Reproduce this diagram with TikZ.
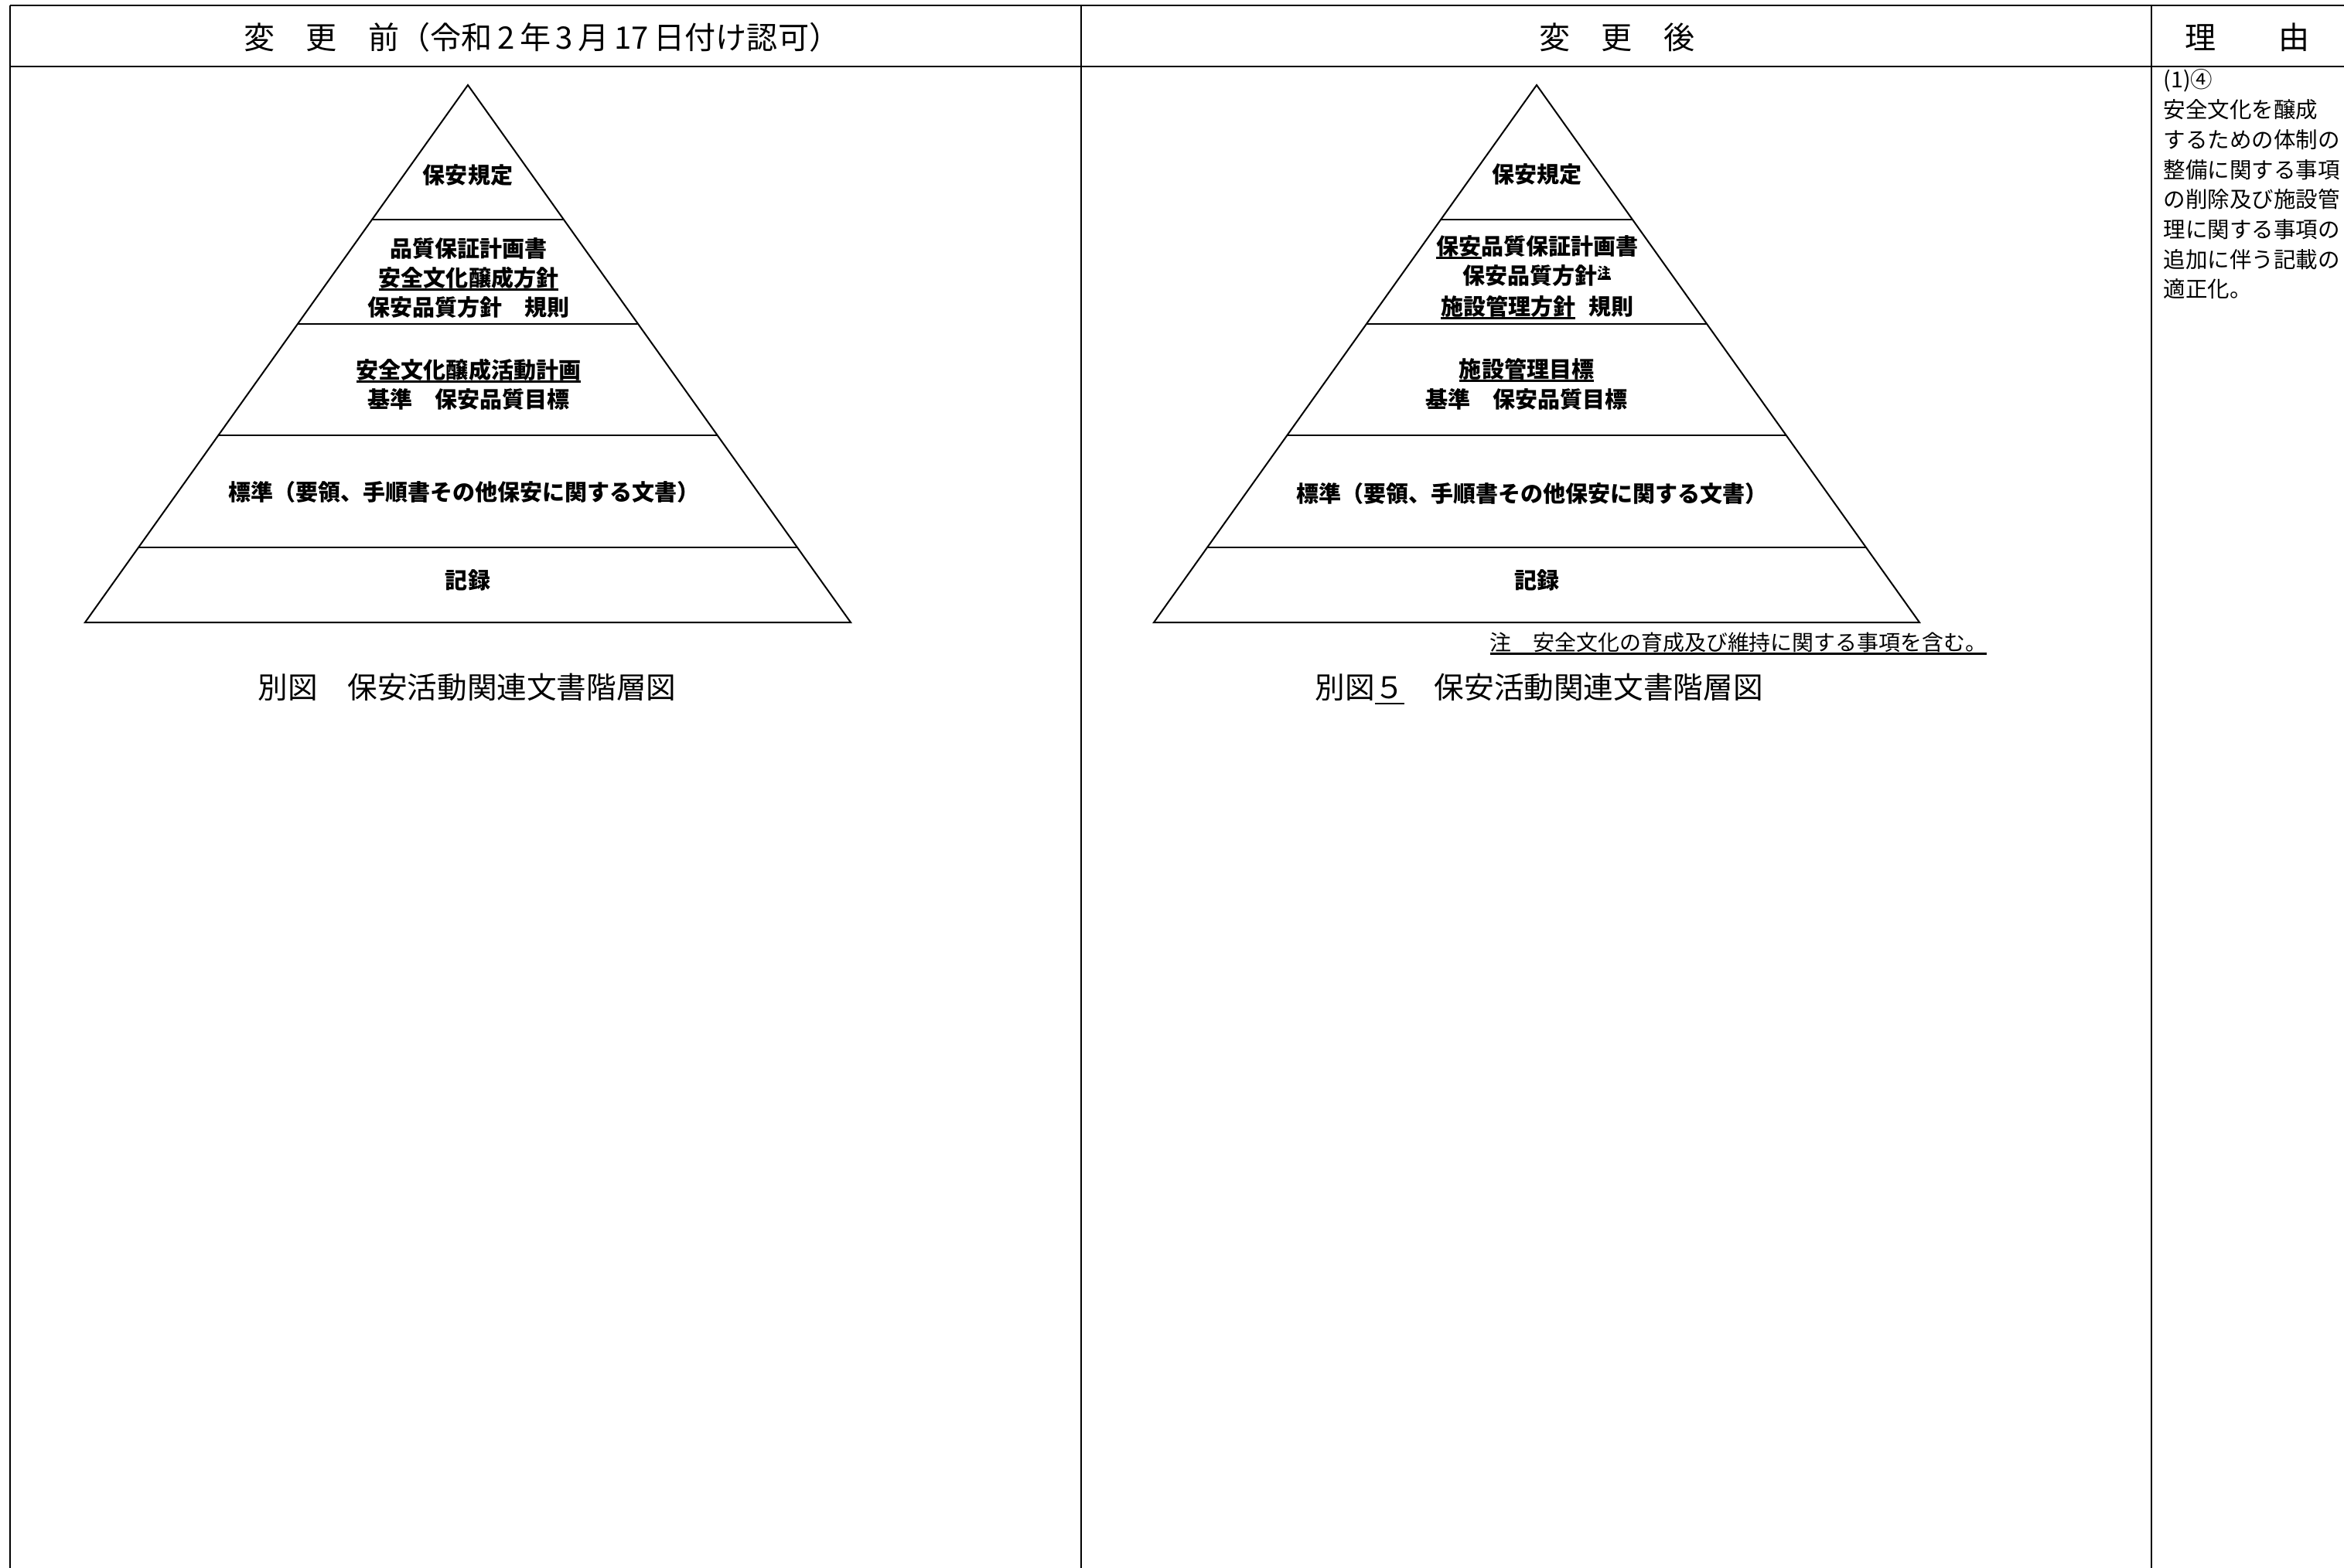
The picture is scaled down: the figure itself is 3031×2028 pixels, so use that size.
\documentclass[tikz,border=0pt]{standalone}
\usepackage{fontspec}
\setmainfont{Noto Sans CJK JP}
\usetikzlibrary{calc}
\newcommand\ulin[1]{\setbox0\hbox{#1}\rlap{\rule[-0.2em]{\wd0}{0.8pt}}\box0}
\tikzset{
  tabline/.style={line width=0.57pt},
  pyr/.style={line width=0.57pt, line join=miter},
  ptxt/.style={inner sep=0pt, text height=7.26pt, text depth=0.99pt,
    font=\fontsize{8.25pt}{10pt}\selectfont\bfseries},
  hdr/.style={inner sep=0pt, text height=10.03pt, text depth=1.37pt,
    font=\fontsize{11.4pt}{13pt}\selectfont},
  captxt/.style={inner sep=0pt, text height=9.66pt, text depth=1.32pt,
    font=\fontsize{10.98pt}{13pt}\selectfont},
  footn/.style={inner sep=0pt, text height=6.99pt, text depth=0.95pt,
    font=\fontsize{7.94pt}{9pt}\selectfont},
  why/.style={inner sep=0pt, anchor=west, text height=7.13pt, text depth=0.97pt,
    font=\fontsize{8.1pt}{10pt}\selectfont},
}
\begin{document}
\begin{tikzpicture}[x=0.01cm, y=-0.01cm]
\useasboundingbox (0,0) rectangle (3031,2028);
% table frame
\coordinate (TL) at (13,7);
\coordinate (TR) at (3031,7);
\coordinate (HL) at (13,86);
\coordinate (HR) at (3031,86);
\coordinate (B1) at (13,2028);
\coordinate (C1t) at (1398,7);
\coordinate (C1b) at (1398,2028);
\coordinate (C2t) at (2782,7);
\coordinate (C2b) at (2782,2028);
\draw[tabline] (TL) -- (TR);
\draw[tabline] (HL) -- (HR);
\draw[tabline] (TL) -- (B1);
\draw[tabline] (C1t) -- (C1b);
\draw[tabline] (C2t) -- (C2b);
% headers
\node[hdr] (h1) at (701,48) {変　更　前（令和\,2\,年\,3\,月\,17\,日付け認可）};
\node[hdr] (h2) at (2091,48) {変　更　後};
\node[hdr] (h3) at (2906,48) {理　　由};
% left pyramid
\coordinate (LA) at (605,110);
\coordinate (LL) at (110,805);
\coordinate (LR) at (1100,805);
\draw[pyr] (LA) -- (LL) -- (LR) -- cycle;
\foreach \t in {0.2504,0.4446,0.6518,0.8604}
  \draw[pyr] ($(LA)!\t!(LL)$) -- ($(LA)!\t!(LR)$);
\node[ptxt] (l1) at (605,226) {保安規定};
\node[ptxt] (l2a) at (606,321) {品質保証計画書};
\node[ptxt] (l2b) at (606,359) {\ulin{安全文化醸成方針}};
\node[ptxt] (l2c) at (606,397) {保安品質方針　規則};
\node[ptxt] (l3a) at (606,478) {\ulin{安全文化醸成活動計画}};
\node[ptxt] (l3b) at (606,516) {基準　保安品質目標};
\node[ptxt] (l4) at (600,636) {標準（要領、手順書その他保安に関する文書）};
\node[ptxt] (l5) at (605,750) {記録};
\node[captxt] (lc) at (604,889) {別図　保安活動関連文書階層図};
% right pyramid
\coordinate (RA) at (1987,110);
\coordinate (RL) at (1492,805);
\coordinate (RR) at (2482,805);
\draw[pyr] (RA) -- (RL) -- (RR) -- cycle;
\foreach \t in {0.2504,0.4446,0.6518,0.8604}
  \draw[pyr] ($(RA)!\t!(RL)$) -- ($(RA)!\t!(RR)$);
\node[ptxt] (r1) at (1987,225) {保安規定};
\node[ptxt] (r2a) at (1988,318) {\ulin{保安}品質保証計画書};
\node[ptxt] (r2b) at (1987,356) {保安品質方針\raisebox{0.28em}{\fontsize{4.8pt}{5pt}\selectfont\ulin{注}}};
\node[ptxt] (r2c) at (1988,396) {\ulin{施設管理方針}\hspace{0.6em}規則};
\node[ptxt] (r3a) at (1974,477) {\ulin{施設管理目標}};
\node[ptxt] (r3b) at (1974,516) {基準　保安品質目標};
\node[ptxt] (r4) at (1981,638) {標準（要領、手順書その他保安に関する文書）};
\node[ptxt] (r5) at (1987,750) {記録};
\node[footn] (rn) at (2248,831) {\ulin{注　安全文化の育成及び維持に関する事項を含む。}};
\node[captxt] (rc) at (1990,889) {別図\ulin{５}　保安活動関連文書階層図};
% reason column
\node[why] (w1) at (2797,103) {(1)④};
\node[why] (w2) at (2797,142) {安全文化を醸成};
\node[why] (w3) at (2797,181) {するための体制の};
\node[why] (w4) at (2797,219.5) {整備に関する事項};
\node[why] (w5) at (2797,258) {の削除及び施設管};
\node[why] (w6) at (2797,297) {理に関する事項の};
\node[why] (w7) at (2797,335.5) {追加に伴う記載の};
\node[why] (w8) at (2797,374) {適正化。};
\end{tikzpicture}
\end{document}
